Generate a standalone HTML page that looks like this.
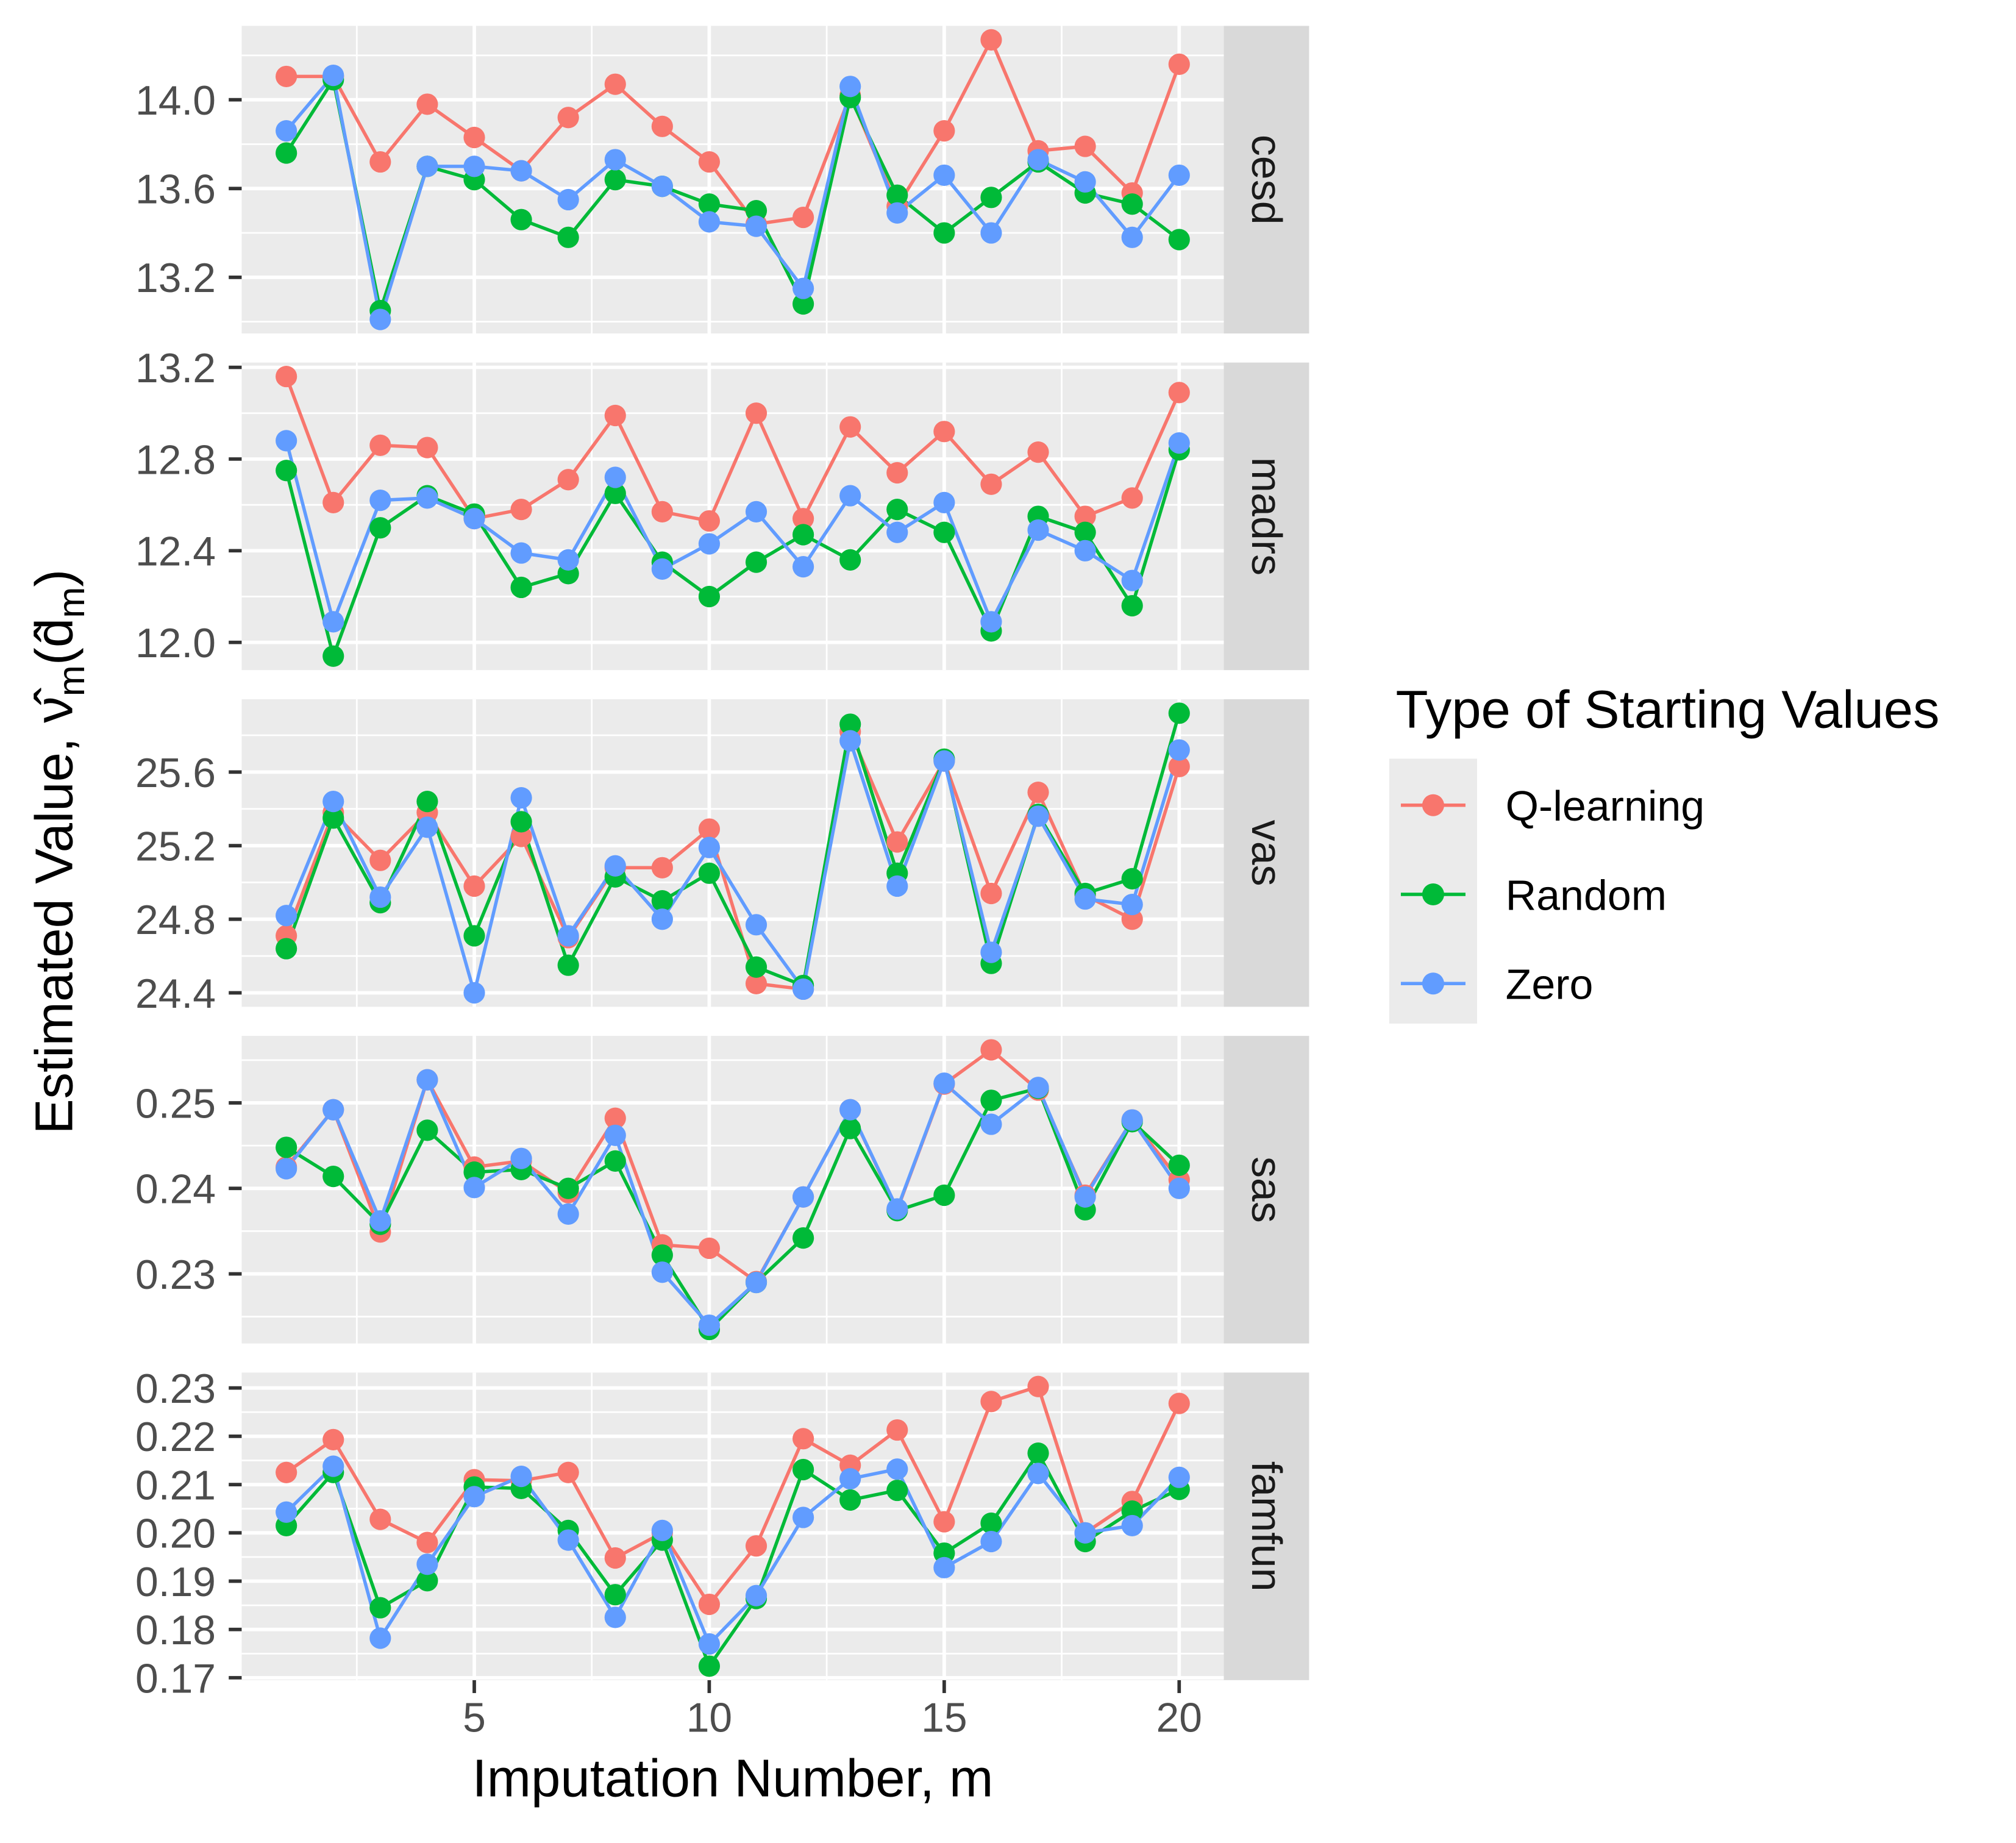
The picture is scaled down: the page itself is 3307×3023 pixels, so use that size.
<!DOCTYPE html>
<html><head><meta charset="utf-8">
<style>html,body{margin:0;padding:0;background:#fff}svg{display:block}text{font-family:"Liberation Sans",sans-serif}</style>
</head><body>
<svg id="chart" xmlns="http://www.w3.org/2000/svg" width="3307" height="3023" viewBox="0 0 1560 1426">
<rect width="1560" height="1426" fill="#fff"/>
<g id="panels"></g>
<text x="567" y="1390" font-size="41" text-anchor="middle" fill="#000">Imputation Number, m</text>
<text transform="translate(56,659) rotate(-90)" font-size="41" text-anchor="middle" fill="#000">Estimated Value, ν̂<tspan font-size="29" dy="9">m</tspan><tspan dy="-9">(d̂</tspan><tspan font-size="29" dy="9">m</tspan><tspan dy="-9">)</tspan></text>
<g>
<text x="1080" y="563" font-size="41" fill="#000">Type of Starting Values</text>
<rect x="1075" y="587" width="68" height="205" fill="#ebebeb"/>
<g><line x1="1084" x2="1134" y1="623" y2="623" stroke="#F8766D" stroke-width="2.6"/><circle cx="1109" cy="623" r="8.5" fill="#F8766D"/><text x="1165" y="635" font-size="33">Q-learning</text></g>
<g><line x1="1084" x2="1134" y1="692" y2="692" stroke="#00BA38" stroke-width="2.6"/><circle cx="1109" cy="692" r="8.5" fill="#00BA38"/><text x="1165" y="704" font-size="33">Random</text></g>
<g><line x1="1084" x2="1134" y1="761" y2="761" stroke="#619CFF" stroke-width="2.6"/><circle cx="1109" cy="761" r="8.5" fill="#619CFF"/><text x="1165" y="773" font-size="33">Zero</text></g>
</g>
</svg>
<script>
const imputations = [1,2,3,4,5,6,7,8,9,10,11,12,13,14,15,16,17,18,19,20];
const xTicks = [5,10,15,20];
const panelNames = ["cesd","madrs","vas","sas","famfun"];
const seriesNames = ["Q-learning","Random","Zero"];
const cesdQ = [14.105,14.105,13.72,13.98,13.83,13.68,13.92,14.07,13.88,13.72,13.44,13.47,14.02,13.52,13.86,14.27,13.77,13.79,13.58,14.16];
const cesdR = [13.76,14.09,13.05,13.70,13.64,13.46,13.38,13.64,13.61,13.53,13.50,13.08,14.01,13.57,13.40,13.56,13.72,13.58,13.53,13.37];
const cesdZ = [13.86,14.11,13.01,13.70,13.70,13.68,13.55,13.73,13.61,13.45,13.43,13.15,14.06,13.49,13.66,13.40,13.73,13.63,13.38,13.66];
const madrsQ = [13.16,12.61,12.86,12.85,12.54,12.58,12.71,12.99,12.57,12.53,13.00,12.54,12.94,12.74,12.92,12.69,12.83,12.55,12.63,13.09];
const madrsR = [12.75,11.94,12.50,12.64,12.56,12.24,12.30,12.65,12.35,12.20,12.35,12.47,12.36,12.58,12.48,12.05,12.55,12.48,12.16,12.84];
const madrsZ = [12.88,12.09,12.62,12.63,12.54,12.39,12.36,12.72,12.32,12.43,12.57,12.33,12.64,12.48,12.61,12.09,12.49,12.40,12.27,12.87];
const vasQ = [24.71,25.38,25.12,25.38,24.98,25.25,24.70,25.08,25.08,25.29,24.45,24.42,25.82,25.22,25.66,24.94,25.49,24.93,24.80,25.63];
const vasR = [24.64,25.35,24.89,25.44,24.71,25.33,24.55,25.03,24.90,25.05,24.54,24.44,25.86,25.05,25.67,24.56,25.37,24.94,25.02,25.92];
const vasZ = [24.82,25.44,24.92,25.30,24.40,25.46,24.71,25.09,24.80,25.19,24.77,24.42,25.77,24.98,25.66,24.62,25.36,24.91,24.88,25.72];
const sasQ = [0.2425,0.2492,0.2349,0.2527,0.2425,0.2432,0.2395,0.2482,0.2334,0.2330,0.2291,0.2390,0.2492,0.2375,0.2522,0.2562,0.2515,0.2392,0.2480,0.2410];
const sasR = [0.2448,0.2414,0.2358,0.2468,0.2419,0.2422,0.2400,0.2432,0.2322,0.2235,0.2290,0.2342,0.2470,0.2374,0.2392,0.2503,0.2517,0.2375,0.2478,0.2427];
const sasZ = [0.2423,0.2492,0.2362,0.2527,0.2401,0.2435,0.2370,0.2462,0.2302,0.2240,0.2290,0.2390,0.2492,0.2376,0.2523,0.2475,0.2518,0.2390,0.2480,0.2400];
const famfunQ = [0.2125,0.2193,0.2028,0.1980,0.2110,0.2108,0.2125,0.1948,0.2000,0.1852,0.1973,0.2195,0.2140,0.2213,0.2023,0.2272,0.2303,0.2000,0.2065,0.2268];
const famfunR = [0.2015,0.2125,0.1845,0.1901,0.2095,0.2092,0.2005,0.1872,0.1985,0.1724,0.1864,0.2131,0.2068,0.2088,0.1958,0.2020,0.2165,0.1982,0.2045,0.2090];
const famfunZ = [0.2043,0.2138,0.1782,0.1935,0.2075,0.2117,0.1985,0.1825,0.2005,0.1770,0.1870,0.2032,0.2112,0.2132,0.1928,0.1982,0.2123,0.2000,0.2015,0.2115];
const cesdTicks = [13.2,13.6,14.0];
const madrsTicks = [12.0,12.4,12.8,13.2];
const vasTicks = [24.4,24.8,25.2,25.6];
const sasTicks = [0.23,0.24,0.25];
const famfunTicks = [0.17,0.18,0.19,0.20,0.21,0.22,0.23];

const allSeries = [[cesdQ,cesdR,cesdZ],[madrsQ,madrsR,madrsZ],[vasQ,vasR,vasZ],[sasQ,sasR,sasZ],[famfunQ,famfunR,famfunZ]];
const allTicks = [cesdTicks,madrsTicks,vasTicks,sasTicks,famfunTicks];
const tickDigits = [1,1,1,2,2];
const colors = ["#F8766D","#00BA38","#619CFF"];
const NS = "http://www.w3.org/2000/svg";
const PL = 187, PR = 947, SW = 66, PH = 238, GAP = 22.5, TOP0 = 20;
function mk(tag, attrs, parent){const e=document.createElementNS(NS,tag);for(const k in attrs)e.setAttribute(k,attrs[k]);parent.appendChild(e);return e;}
const xmin = Math.min(...imputations), xmax = Math.max(...imputations);
const xr = xmax - xmin, xlo = xmin - 0.05*xr, xhi = xmax + 0.05*xr;
function xs(v){return PL + (v - xlo)/(xhi - xlo)*(PR - PL);}
const root = document.getElementById('panels');
panelNames.forEach((name, p) => {
  const top = TOP0 + p*(PH+GAP), bot = top + PH;
  const vals = allSeries[p].flat();
  const mn = Math.min(...vals), mx = Math.max(...vals), r = mx - mn;
  const lo = mn - 0.05*r, hi = mx + 0.05*r;
  const ys = v => bot - (v - lo)/(hi - lo)*PH;
  const g = mk('g', {}, root);
  
  
  const bg = mk('rect', {x:PL, y:top, width:PR-PL, height:PH, fill:'#ebebeb'}, g);
  
  
  const ticks = allTicks[p], step = ticks[1]-ticks[0];
  for (let k=-1;k<ticks.length;k++){const v=ticks[0]+(k+0.5)*step;const y=ys(v);if(y>=top&&y<=bot){const l=mk('line',{x1:PL,x2:PR,y1:y,y2:y,stroke:'#fff','stroke-width':1.3},g);}}
  for (let k=0;k<xTicks.length;k++){const v=xTicks[k]-2.5;const x=xs(v);if(x>=PL){const l=mk('line',{x1:x,x2:x,y1:top,y2:bot,stroke:'#fff','stroke-width':1.3},g);}}
  xTicks.forEach(v=>{const x=xs(v);const l=mk('line',{x1:x,x2:x,y1:top,y2:bot,stroke:'#fff','stroke-width':2.7},g);});
  ticks.forEach(v=>{const y=ys(v);
    const l=mk('line',{x1:PL,x2:PR,y1:y,y2:y,stroke:'#fff','stroke-width':2.7},g);
    const t=mk('line',{x1:PL-10,x2:PL,y1:y,y2:y,stroke:'#333','stroke-width':2.7},g);
    const tx=mk('text',{x:PL-20,y:y+11.5,'font-size':32,'text-anchor':'end',fill:'#4d4d4d'},g);tx.textContent=v.toFixed(tickDigits[p]);
  });
  allSeries[p].forEach((arr, s) => {
    const pts = imputations.map((m,i)=>xs(m).toFixed(2)+','+ys(arr[i]).toFixed(2)).join(' ');
    const pl = mk('polyline', {points:pts, fill:'none', stroke:colors[s], 'stroke-width':2.6, 'stroke-linejoin':'round'}, g);
    
    
  });
  allSeries[p].forEach((arr, s) => {
    imputations.forEach((m,i)=>{const c=mk('circle',{cx:xs(m),cy:ys(arr[i]),r:8.3,fill:colors[s]},g);
      
      });
  });
  const st = mk('rect', {x:PR, y:top, width:SW, height:PH, fill:'#d9d9d9'}, g);
  
  
  const sl = mk('text', {transform:`translate(${PR+SW/2-11},${top+PH/2}) rotate(90)`, 'font-size':33, 'text-anchor':'middle', fill:'#1a1a1a'}, g);
  sl.textContent = name;
  
  
  if (p === panelNames.length-1) {
    xTicks.forEach(v=>{const x=xs(v);
      const t=mk('line',{x1:x,x2:x,y1:bot,y2:bot+10,stroke:'#333','stroke-width':2.7},g);
      const tx=mk('text',{x:x,y:bot+40,'font-size':32,'text-anchor':'middle',fill:'#4d4d4d'},g);tx.textContent=String(v);
    });
  }
});
</script>
</body></html>
